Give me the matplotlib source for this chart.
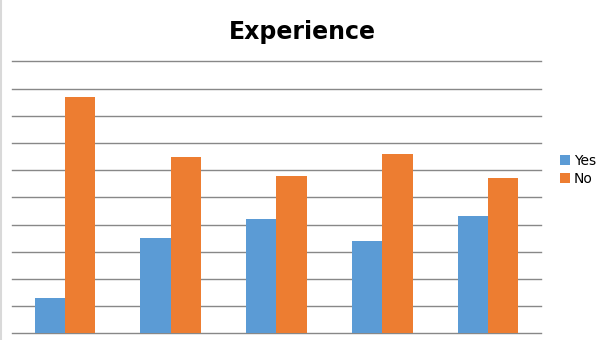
import matplotlib.pyplot as plt
import numpy as np

groups = ["1", "2", "3", "4", "5"]
yes = [13, 35, 42, 34, 43]
no = [87, 65, 58, 66, 57]

blue = '#5B9BD5'
orange = '#ED7D31'

fig = plt.figure(figsize=(6.05, 3.4), dpi=100)
# light border on the left edge of the chart area
fig.add_artist(plt.Line2D([0.001, 0.001], [0, 1], color='#D9D9D9', linewidth=1.5))
ax = fig.add_axes([0.0198, 0.0197, 0.8744, 0.80])

x = np.arange(1, len(groups) + 1)
w = 0.2857
ax.bar(x - w / 2, yes, width=w, color=blue, label='Yes', zorder=3)
ax.bar(x + w / 2, no, width=w, color=orange, label='No', zorder=3)

ax.set_xlim(0.5, len(groups) + 0.5)
ax.set_ylim(0, 100)
for yv in np.arange(0, 101, 10):
    ax.axhline(yv, color='#888888', linewidth=1.0, zorder=1, clip_on=False)
ax.set_xticks([])
ax.set_yticks([])
for s in ax.spines.values():
    s.set_visible(False)

fig.text(0.5, 0.906, 'Experience', ha='center', va='center', fontsize=17, fontweight='bold')
fig.legend(loc='center left', bbox_to_anchor=(0.905, 0.5), frameon=False,
           fontsize=10, handlelength=0.7, handleheight=0.7, handletextpad=0.3,
           labelspacing=0.3)

fig.savefig('out.png', dpi=100)
